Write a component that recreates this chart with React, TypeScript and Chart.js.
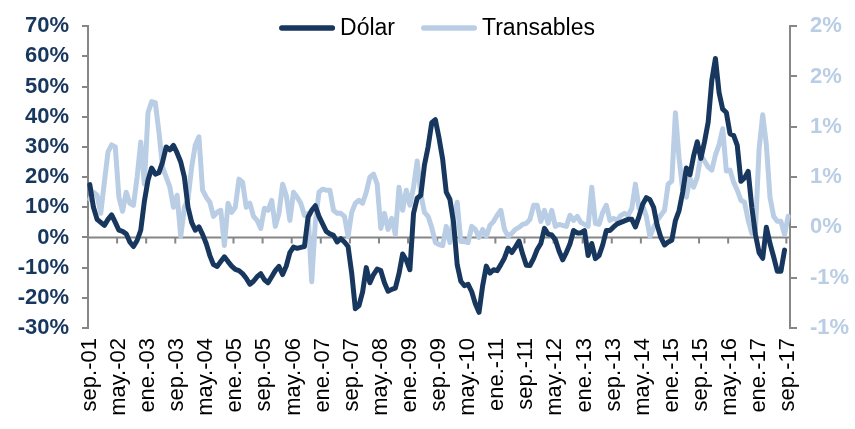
import React, { useEffect, useRef } from 'react';
import { Chart, registerables } from 'chart.js';

Chart.register(...registerables);

const MONTHS = ['ene', 'feb', 'mar', 'abr', 'may', 'jun', 'jul', 'ago', 'sep', 'oct', 'nov', 'dic'];
const START_YEAR = 2001;
const START_MONTH = 8; // sep
const N_MONTHS = 193;
const LABEL_EVERY = 8;

const categories: string[] = [];
for (let i = 0; i < N_MONTHS; i++) {
  const m = (START_MONTH + i) % 12;
  const y = START_YEAR + Math.floor((START_MONTH + i) / 12);
  categories.push(`${MONTHS[m]}.-${String(y % 100).padStart(2, '0')}`);
}

// Dólar (% y/y, left axis)
const dolar: (number | null)[] = [
  17.5, 10, 6, 5, 4, 6, 7.5, 5, 2.4, 2,
  1.2, -1.5, -3, -1, 2.4, 12, 19, 23, 21, 21.5,
  25, 30, 29, 30.5, 28, 25, 20, 10, 5, 2.4,
  3.5, 1, -2, -6, -9, -9.6, -8, -6.4, -8, -9.5,
  -10.6, -11, -12, -13.5, -15.5, -14.5, -13, -12, -14, -15,
  -13, -11, -9.6, -12.3, -9.5, -5, -3.2, -3.6, -3.3, -3,
  6.7, 9, 10.5, 7, 4.5, 2, 1.2, 0.7, -1.5, -0.4,
  -1.5, -3, -11.8, -23.6, -22.6, -18, -10, -15, -12.3, -10.5,
  -11, -15, -17.8, -17.2, -16.8, -12, -5.5, -7.5, -10.7, 8,
  13, 14, 24, 30, 38, 39, 33, 26, 15, 12.6,
  5, -9, -14.5, -16, -15.5, -18, -22, -24.8, -16, -9.5,
  -11.8, -10.7, -11, -9, -6.8, -3.5, -5, -3.2, -1.2, -5.5,
  -9.2, -9.3, -7, -4, -2, 3, 1.1, 0.8, -0.8, -4.5,
  -7.4, -5, -2.2, 2.3, 1.5, 1.5, 2.3, -6, -2, -7,
  -6, -2.5, 2.3, 2.3, 3.5, 4.5, 5, 5.5, 6, 6,
  3.5, 7, 11, 13.2, 12.5, 10, 4, 0, -2.5, -1.5,
  -0.9, 5.6, 8.9, 15, 23, 20.8, 27, 31.7, 26.2, 31.7,
  38.2, 52, 59.3, 48, 42.5, 41.4, 34.4, 33.8, 30.5, 18.6,
  19.7, 21.9, 10, 1, -5, -6.9, 3.4, -2, -6.4, -11.2,
  -11.2, -4.2, null,
];

// Transables (% m/m, right axis)
const transables: number[] = [
  0.28, 0.35, 0.32, 0.14, 0.45, 0.75, 0.82, 0.8, 0.3, 0.16,
  0.35, 0.24, 0.22, 0.5, 0.85, 0.43, 1.14, 1.25, 1.24, 0.95,
  0.6, 0.5, 0.4, 0.2, 0.32, -0.09, 0.2, 0.28, 0.6, 0.82,
  0.9, 0.37, 0.3, 0.25, 0.11, 0.15, 0.17, -0.18, 0.24, 0.15,
  0.2, 0.48, 0.45, 0.2, 0.24, 0.11, 0.07, -0.01, 0.19, 0.17,
  0.27, 0.01, 0.14, 0.43, 0.32, 0.07, 0.35, 0.3, 0.24, 0.12,
  0.14, -0.54, 0.05, 0.35, 0.38, 0.37, 0.37, 0.17, 0.14, 0.14,
  0.11, -0.09, 0.15, 0.24, 0.27, 0.24, 0.35, 0.5, 0.53, 0.43,
  -0.01, 0.14, -0.02, 0.09, -0.07, 0.4, 0.17, 0.37, 0.22, 0.4,
  0.66, 0.33, 0.15, 0.11, 0.0, -0.15, -0.17, -0.18, 0.01, -0.15,
  0.1, 0.25, -0.14, -0.14, -0.15, 0.01, -0.02, -0.1, -0.02, -0.09,
  0.02, 0.06, 0.12, 0.17, -0.02, -0.09, -0.06, -0.02, 0.0, 0.03,
  0.04, 0.08, 0.22, 0.22, 0.06, 0.17, 0.04, 0.17, 0.01, 0.03,
  0.02, 0.01, 0.12, 0.07, 0.11, 0.05, 0.03, 0.01, 0.4, 0.04,
  0.03, 0.15, 0.22, 0.07, 0.09, 0.07, 0.12, 0.14, 0.12, 0.19,
  0.43, 0.19, 0.22, 0.11, -0.09, 0.0, 0.07, 0.12, 0.17, 0.43,
  0.46, 1.14, 0.69, 0.37, 0.3, 0.49, 0.4, 0.5, 0.72, 0.66,
  0.6, 0.57, 0.72, 0.82, 0.98, 0.56, 0.57, 0.45, 0.37, 0.27,
  0.25, 0.07, -0.06, -0.02, 0.78, 1.12, 0.82, 0.3, 0.11, 0.06,
  0.06, -0.07, 0.11,
];

const LEFT_MIN = -30;
const LEFT_MAX = 70;
const LEFT_STEP = 10;
const RIGHT_MIN = -1;
const RIGHT_MAX = 2;
const RIGHT_STEP = 0.5;

const DARK = '#17375E';
const LIGHT = '#B9CDE5';
const AXIS_GREY = '#868686';
const FONT = '"Liberation Sans", Arial, sans-serif';

const zeroAxisPlugin = {
  id: 'zeroAxis',
  beforeDatasetsDraw(chart: any) {
    const { ctx, chartArea, scales } = chart;
    const y0 = scales.y.getPixelForValue(0);
    const xs = scales.x;
    const n = chart.data.labels.length;
    const half = (xs.getPixelForValue(1) - xs.getPixelForValue(0)) / 2;
    ctx.save();
    ctx.strokeStyle = AXIS_GREY;
    ctx.lineWidth = 2;
    ctx.beginPath();
    ctx.moveTo(chartArea.left, y0);
    ctx.lineTo(chartArea.right, y0);
    ctx.stroke();
    ctx.beginPath();
    for (let i = LABEL_EVERY; i < n; i += LABEL_EVERY) {
      const px = xs.getPixelForValue(i) - half;
      ctx.moveTo(px, y0);
      ctx.lineTo(px, y0 + 6);
    }
    ctx.stroke();
    ctx.restore();
  },
};

const legendPlugin = {
  id: 'insideLegend',
  afterDatasetsDraw(chart: any) {
    const { ctx, chartArea } = chart;
    const lineLen = 56;
    const gapText = 5;
    const gapItems = 26;
    ctx.save();
    ctx.font = `23px ${FONT}`;
    const items = chart.data.datasets.map((d: any) => ({
      label: d.label,
      color: d.borderColor,
      w: ctx.measureText(d.label).width,
    }));
    const total =
      items.reduce((s: number, it: any) => s + lineLen + gapText + it.w, 0) + gapItems * (items.length - 1);
    let x = (chartArea.left + chartArea.right) / 2 - total / 2 - 2;
    const y = 28;
    items.forEach((it: any) => {
      ctx.strokeStyle = it.color;
      ctx.lineWidth = 5.5;
      ctx.lineCap = 'round';
      ctx.beginPath();
      ctx.moveTo(x + 2.75, y);
      ctx.lineTo(x + lineLen - 2.75, y);
      ctx.stroke();
      ctx.fillStyle = '#000';
      ctx.textBaseline = 'middle';
      ctx.textAlign = 'left';
      ctx.fillText(it.label, x + lineLen + gapText, y + 1);
      x += lineLen + gapText + it.w + gapItems;
    });
    ctx.restore();
  },
};

const rightFmt = (v: number) => {
  const r = Math.sign(v) * Math.round(Math.abs(v));
  return `${r === 0 ? 0 : r}%`;
};

export default function App() {
  const ref = useRef<HTMLCanvasElement | null>(null);

  useEffect(() => {
    if (!ref.current) return;
    const chart = new Chart(ref.current, {
      type: 'line',
      data: {
        labels: categories,
        datasets: [
          {
            label: 'Dólar',
            data: dolar,
            yAxisID: 'y',
            borderColor: DARK,
            backgroundColor: DARK,
            borderWidth: 5,
            pointRadius: 0,
            borderJoinStyle: 'round',
            borderCapStyle: 'round',
            tension: 0,
          },
          {
            label: 'Transables',
            data: transables,
            yAxisID: 'y1',
            borderColor: LIGHT,
            backgroundColor: LIGHT,
            borderWidth: 5,
            pointRadius: 0,
            borderJoinStyle: 'round',
            borderCapStyle: 'round',
            tension: 0,
          },
        ],
      },
      options: {
        responsive: false,
        animation: false,
        devicePixelRatio: 1,
        layout: { padding: { top: 20, left: 0, right: 0, bottom: 0 } },
        plugins: { legend: { display: false }, tooltip: { enabled: false } },
        scales: {
          x: {
            type: 'category',
            offset: true,
            grid: { display: false, drawTicks: false },
            border: { display: false },
            ticks: {
              autoSkip: false,
              minRotation: 90,
              maxRotation: 90,
              padding: 10,
              color: '#000',
              font: { family: FONT, size: 22 },
              callback: (_v: any, i: number) => (i % LABEL_EVERY === 0 ? categories[i] : ''),
            },
            afterFit: (s: any) => {
              s.height = 101;
            },
          },
          y: {
            position: 'left',
            min: LEFT_MIN,
            max: LEFT_MAX,
            ticks: {
              stepSize: LEFT_STEP,
              padding: 13,
              color: DARK,
              font: { family: FONT, size: 22, weight: 'bold' },
              callback: (v: any) => `${v}%`,
            },
            grid: { drawOnChartArea: false, drawTicks: true, tickLength: 6, color: AXIS_GREY, lineWidth: 2 },
            border: { display: true, color: AXIS_GREY, width: 2 },
            afterFit: (s: any) => {
              s.width = 88;
            },
          },
          y1: {
            position: 'right',
            min: RIGHT_MIN,
            max: RIGHT_MAX,
            ticks: {
              stepSize: RIGHT_STEP,
              padding: 13,
              color: LIGHT,
              font: { family: FONT, size: 22, weight: 'bold' },
              callback: (v: any) => rightFmt(Number(v)),
            },
            grid: { drawOnChartArea: false, drawTicks: true, tickLength: 7, color: AXIS_GREY, lineWidth: 2 },
            border: { display: true, color: AXIS_GREY, width: 2 },
            afterFit: (s: any) => {
              s.width = 65;
            },
          },
        },
      } as any,
      plugins: [zeroAxisPlugin, legendPlugin],
    });
    return () => chart.destroy();
  }, []);

  return (
    <div style={{ position: 'absolute', left: 0, top: 0, width: 855, height: 429, background: '#fff' }}>
      <canvas ref={ref} width={855} height={429} />
    </div>
  );
}
